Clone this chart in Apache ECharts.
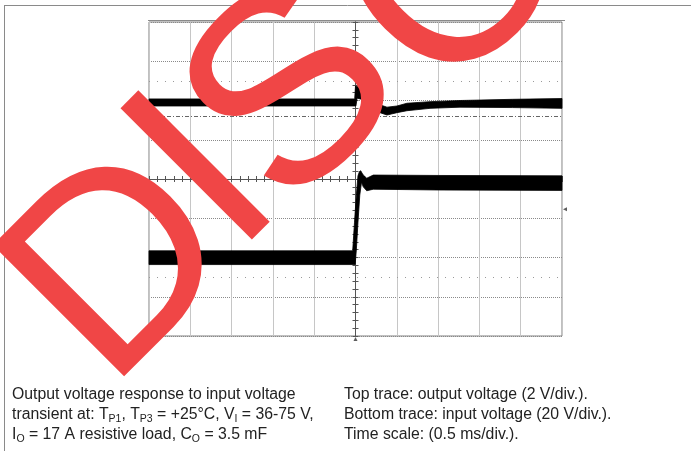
<!DOCTYPE html>
<html><head><meta charset="utf-8">
<script src="https://cdn.jsdelivr.net/npm/echarts@6/dist/echarts.min.js"></script>
<style>html,body{margin:0;padding:0;background:#fff}#c{width:691px;height:451px}</style>
</head><body><div id="c"></div>
<script>
// Time axis in ms (0.5 ms/div, 10 div), vertical in divisions (8 div)
const timeRange = [-2.5, 2.5];
const divRange = [-4, 4];

// Top trace: output voltage (2 V/div) - envelope of the noisy trace, in divisions
const outTimeUpper = [-2.5, -0.01, 0.0, 0.03, 0.094, 0.176, 0.297, 0.381, 0.502, 0.623, 0.902, 1.265, 1.9, 2.5];
const outUpper     = [2.04, 2.04, 2.37, 2.35, 2.23, 2.06, 1.89, 1.83, 1.86, 1.93, 1.97, 2.00, 2.03, 2.05];
const outTimeLower = [-2.5, 0.005, 0.02, 0.094, 0.176, 0.297, 0.381, 0.502, 0.623, 0.902, 1.265, 1.9, 2.5];
const outLower     = [1.86, 1.86, 2.06, 2.02, 1.84, 1.69, 1.63, 1.69, 1.74, 1.80, 1.83, 1.82, 1.80];

// Bottom trace: input voltage (20 V/div)
const inTimeUpper = [-2.5, -0.034, -0.012, 0.010, 0.030, 0.048, 0.063, 0.079, 0.094, 0.136, 0.215, 1.0, 2.5];
const inUpper     = [-1.83, -1.83, -1.10, -0.41, 0.08, 0.19, 0.21, 0.15, 0.10, 0.02, 0.10, 0.09, 0.08];
const inTimeLower = [-2.5, -0.004, 0.010, 0.030, 0.052, 0.073, 0.094, 0.136, 0.215, 1.0, 2.5];
const inLower     = [-2.18, -2.18, -1.81, -1.10, -0.41, -0.08, -0.20, -0.30, -0.26, -0.28, -0.29];

// Scope cursor / reference levels (divisions)
const dottedLevels = [2.5, -2.5];
const dashDotLevel = 1.615;
// Small scope markers: trigger level (right), ground (left), trigger position (bottom)
const markerPoints = [[2.5, -0.77], [-2.5, -3.9], [0, -4]];

const captionLeft = [
  'Output voltage response to input voltage',
  'transient at: T{s|P1}, T{s|P3} = +25°C, V{s|I} = 36-75 V,',
  'I{s|O} = 17 A resistive load, C{s|O} = 3.5 mF'
];
const captionRight = [
  'Top trace: output voltage (2 V/div.).',
  'Bottom trace: input voltage (20 V/div.).',
  'Time scale: (0.5 ms/div.).'
];
// Watermark letters (the rest of the word lies outside the picture)
const watermarkLetters = ['D', 'I', 'S', 'C', 'O'];
const watermarkAnchors = [[55.8, 339.3], [181.6, 204.5], [234, 163], [389, 52], [532, -81]];

const traces = [
  {tu: outTimeUpper, u: outUpper, tl: outTimeLower, l: outLower},
  {tu: inTimeUpper, u: inUpper, tl: inTimeLower, l: inLower}
];

const FONT = 'Liberation Sans, Arial, Helvetica, sans-serif';
const chart = echarts.init(document.getElementById('c'), null, {renderer: 'canvas'});

const tickColor = '#555';
function xAx(primary) {
  return {
    type: 'value', min: timeRange[0], max: timeRange[1], interval: 0.5, position: 'bottom',
    axisLabel: {show: false},
    axisLine: {show: true, onZero: true, onZeroAxisIndex: 0, lineStyle: {color: tickColor, width: 1}},
    axisTick: {show: true, inside: primary, length: 3, lineStyle: {color: tickColor}},
    minorTick: {show: true, splitNumber: 5, length: 3, lineStyle: {color: tickColor}},
    splitLine: {show: primary, lineStyle: {color: '#c6c6c6', width: 1}},
    minorSplitLine: {show: false}
  };
}
function yAx(primary) {
  return {
    type: 'value', min: divRange[0], max: divRange[1], interval: 1, position: 'left',
    axisLabel: {show: false},
    axisLine: {show: true, onZero: true, onZeroAxisIndex: 0, lineStyle: {color: tickColor, width: 1}},
    axisTick: {show: true, inside: primary, length: 3, lineStyle: {color: tickColor}},
    minorTick: {show: true, splitNumber: 5, length: 3, lineStyle: {color: tickColor}},
    splitLine: {show: primary, lineStyle: {color: '#8a8a8a', width: 1, type: [1, 1]}},
    minorSplitLine: {show: false}
  };
}

const markLineData = dottedLevels.map(v => ({yAxis: v, lineStyle: {color: '#9a9a9a', type: [1, 7], width: 1}}))
  .concat([{yAxis: dashDotLevel, lineStyle: {color: '#666', type: [4, 2, 1, 2], width: 1}}]);

const watermark = watermarkLetters.map((ch, i) => ({
  type: 'text', silent: true, z: 100, x: watermarkAnchors[i][0], y: watermarkAnchors[i][1], rotation: Math.PI / 4,
  style: {
    text: ch, fill: '#f04646', fontSize: 270, fontFamily: FONT, font: '270px ' + FONT,
    align: 'left', verticalAlign: 'middle', textAlign: 'left', textVerticalAlign: 'middle', blend: 'multiply'
  }
}));

const option = {
  backgroundColor: '#fff',
  animation: false,
  grid: {left: 149, top: 22, width: 413, height: 314, show: true, borderColor: '#808080', borderWidth: 1, backgroundColor: 'transparent'},
  xAxis: [xAx(true), xAx(false)],
  yAxis: [yAx(true), yAx(false)],
  series: [
    {
      type: 'custom', name: 'traces', z: 5,
      data: traces.map(t => [t.tu[0], t.u[0]]),
      renderItem: function (params, api) {
        const tr = traces[params.dataIndex];
        const pts = [];
        for (let i = 0; i < tr.tu.length; i++) pts.push(api.coord([tr.tu[i], tr.u[i]]));
        for (let i = tr.tl.length - 1; i >= 0; i--) pts.push(api.coord([tr.tl[i], tr.l[i]]));
        return {type: 'polygon', shape: {points: pts}, style: {fill: '#000', stroke: '#000', lineWidth: 0.8}};
      },
      markLine: {silent: true, symbol: 'none', label: {show: false}, data: markLineData, animation: false}
    },
    {
      type: 'scatter', name: 'markers', z: 6, silent: true,
      data: [
        {value: markerPoints[0], symbol: 'triangle', symbolRotate: 90, symbolSize: [4, 4], symbolOffset: [3, 0]},
        {value: markerPoints[1], symbol: 'triangle', symbolRotate: -90, symbolSize: [4, 4], symbolOffset: [0, 0]},
        {value: markerPoints[2], symbol: 'triangle', symbolRotate: 0, symbolSize: [4, 4], symbolOffset: [0, 3]}
      ],
      itemStyle: {color: '#333'}
    }
  ],
  graphic: [
    {type: 'line', silent: true, z: 10, shape: {x1: 4, y1: 5.5, x2: 691, y2: 5.5}, style: {stroke: '#8a8a8a', lineWidth: 1}},
    {type: 'line', silent: true, z: 10, shape: {x1: 4.5, y1: 5, x2: 4.5, y2: 451}, style: {stroke: '#8a8a8a', lineWidth: 1}},
    {type: 'line', silent: true, z: 10, shape: {x1: 148, y1: 20.5, x2: 565, y2: 20.5}, style: {stroke: '#8a8a8a', lineWidth: 1}},
    {
      type: 'text', silent: true, z: 10, x: 12, y: 384.5,
      style: {
        text: captionLeft.join('\n'), fill: '#222', font: '15.8px ' + FONT, fontSize: 15.8, fontFamily: FONT,
        lineHeight: 20, align: 'left', verticalAlign: 'top', textAlign: 'left', textVerticalAlign: 'top',
        rich: {s: {fontSize: 10.5, fontFamily: FONT, fill: '#222', lineHeight: 10, verticalAlign: 'bottom'}}
      }
    },
    {
      type: 'text', silent: true, z: 10, x: 344, y: 384.5,
      style: {
        text: captionRight.join('\n'), fill: '#222', font: '15.8px ' + FONT, fontSize: 15.8, fontFamily: FONT,
        lineHeight: 20, align: 'left', verticalAlign: 'top', textAlign: 'left', textVerticalAlign: 'top'
      }
    }
  ].concat(watermark)
};
chart.setOption(option);
</script>
</body></html>
